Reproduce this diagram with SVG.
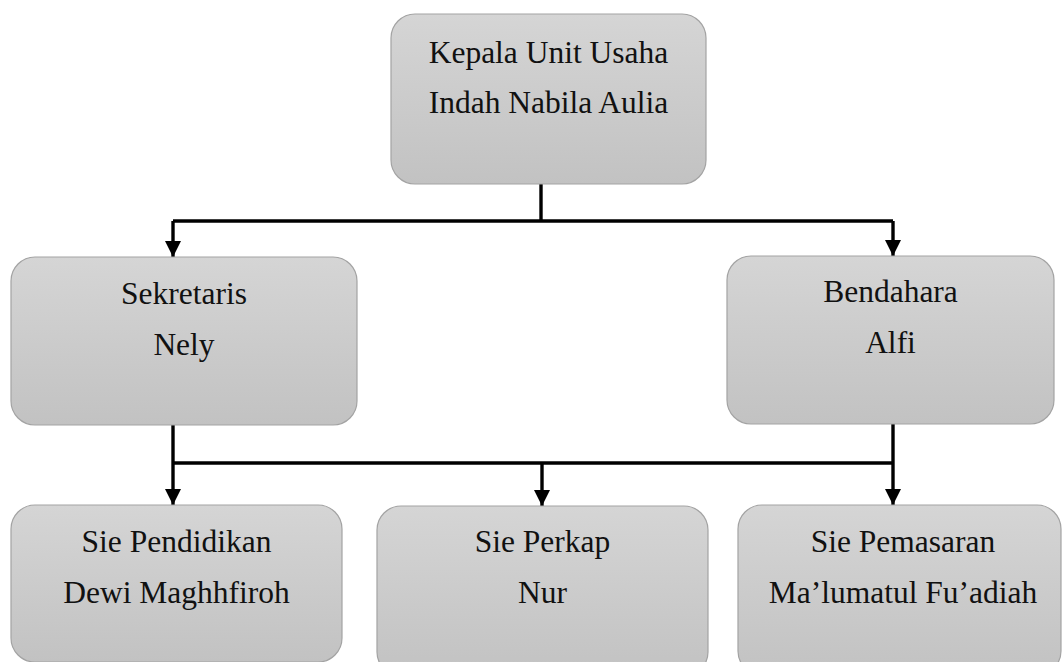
<svg xmlns="http://www.w3.org/2000/svg" width="1062" height="662" viewBox="0 0 1062 662">
  <defs>
    <linearGradient id="boxfill" x1="0" y1="0" x2="0" y2="1">
      <stop offset="0" stop-color="#d5d5d5"/>
      <stop offset="1" stop-color="#c2c2c2"/>
    </linearGradient>
    <marker id="arrow" markerUnits="userSpaceOnUse" markerWidth="18" markerHeight="16" refX="16" refY="8" orient="auto">
      <path d="M0,0 L16,8 L0,16 Z" fill="#000"/>
    </marker>
  </defs>
  <style>
    .box { fill: url(#boxfill); stroke: #a3a3a3; stroke-width: 1.2; }
    .lbl { font-family: "Liberation Serif", "Times New Roman", serif; font-size: 31.5px; fill: #111; text-anchor: middle; }
    .wire { fill: none; stroke: #000; stroke-width: 3.4; }
  </style>
  <rect width="1062" height="662" fill="#fff"/>

  <g id="connectors">
    <path class="wire" d="M541 184 V221"/>
    <path class="wire" d="M173 221 H893"/>
    <path class="wire" d="M173 221 V257" marker-end="url(#arrow)"/>
    <path class="wire" d="M893 221 V256" marker-end="url(#arrow)"/>
    <path class="wire" d="M173 425 V505" marker-end="url(#arrow)"/>
    <path class="wire" d="M893 424 V505" marker-end="url(#arrow)"/>
    <path class="wire" d="M173 463 H893"/>
    <path class="wire" d="M542 463 V506" marker-end="url(#arrow)"/>
  </g>

  <g id="kepala">
    <rect class="box" x="391" y="14" width="315" height="170" rx="24"/>
    <text class="lbl" x="548.5" y="63">Kepala Unit Usaha</text>
    <text class="lbl" x="548.5" y="113">Indah Nabila Aulia</text>
  </g>

  <g id="sekretaris">
    <rect class="box" x="11" y="257" width="346" height="168" rx="24"/>
    <text class="lbl" x="184" y="304">Sekretaris</text>
    <text class="lbl" x="184" y="355">Nely</text>
  </g>

  <g id="bendahara">
    <rect class="box" x="727" y="256" width="327" height="168" rx="24"/>
    <text class="lbl" x="890.5" y="302">Bendahara</text>
    <text class="lbl" x="890.5" y="353">Alfi</text>
  </g>

  <g id="pendidikan">
    <rect class="box" x="11" y="505" width="331" height="157" rx="24"/>
    <text class="lbl" x="176.5" y="552">Sie Pendidikan</text>
    <text class="lbl" x="176.5" y="603">Dewi Maghhfiroh</text>
  </g>

  <g id="perkap">
    <rect class="box" x="377" y="506" width="331" height="170" rx="24"/>
    <text class="lbl" x="542.5" y="552">Sie Perkap</text>
    <text class="lbl" x="542.5" y="603">Nur</text>
  </g>

  <g id="pemasaran">
    <rect class="box" x="738" y="505" width="323" height="170" rx="24"/>
    <text class="lbl" x="903" y="552">Sie Pemasaran</text>
    <text class="lbl" x="903" y="603">Ma’lumatul Fu’adiah</text>
  </g>
</svg>
